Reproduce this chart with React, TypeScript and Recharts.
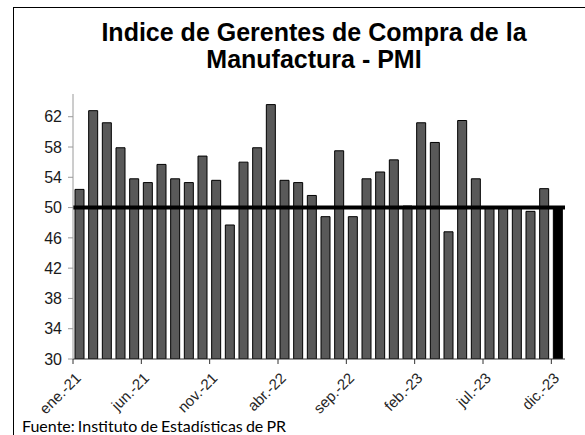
import { Bar, BarChart, Cell, ReferenceLine, XAxis, YAxis } from "recharts";

const months = [
  "ene.-21", "feb.-21", "mar.-21", "abr.-21", "may.-21", "jun.-21",
  "jul.-21", "ago.-21", "sep.-21", "oct.-21", "nov.-21", "dic.-21",
  "ene.-22", "feb.-22", "mar.-22", "abr.-22", "may.-22", "jun.-22",
  "jul.-22", "ago.-22", "sep.-22", "oct.-22", "nov.-22", "dic.-22",
  "ene.-23", "feb.-23", "mar.-23", "abr.-23", "may.-23", "jun.-23",
  "jul.-23", "ago.-23", "sep.-23", "oct.-23", "nov.-23", "dic.-23",
];

const pmi = [
  52.4, 62.8, 61.2, 57.9, 53.8, 53.3, 55.7, 53.8, 53.3, 56.8, 53.6, 47.7,
  56.0, 57.9, 63.6, 53.6, 53.3, 51.6, 48.8, 57.5, 48.8, 53.8, 54.7, 56.3,
  50.2, 61.2, 58.6, 46.8, 61.5, 53.8, 50.0, 50.0, 50.0, 49.5, 52.5, 50.0,
];

const yTicks = [30, 34, 38, 42, 46, 50, 54, 58, 62];
const threshold = 50;

const data = months.map((m, i) => ({ month: m, pmi: pmi[i] }));

const W = 585;
const H = 435;
const M = { top: 94, right: 20, bottom: 16, left: 13 };
const Y_W = 60;
const X_H = 60;
const AXIS_Y = H - M.bottom - X_H;
const BAND = (W - M.left - Y_W - M.right) / months.length;

// marcas entre categorías como en Excel, etiqueta girada bajo la categoría
function MonthTick(props: any) {
  const { x, payload } = props;
  const tx = x - BAND / 2;
  return (
    <g>
      <line x1={tx} y1={AXIS_Y} x2={tx} y2={AXIS_Y + 5} stroke="#333" />
      <text
        x={x + 2}
        y={AXIS_Y + 20}
        textAnchor="end"
        fontSize={15}
        fill="#262626"
        fontFamily="Liberation Sans, Arial, sans-serif"
        transform={`rotate(-45, ${x + 2}, ${AXIS_Y + 20})`}
      >
        {payload.value}
      </text>
    </g>
  );
}

export default function App() {
  return (
    <div
      style={{
        position: "absolute",
        left: 0,
        top: 0,
        width: W,
        height: H,
        overflow: "hidden",
        background: "#fff",
        fontFamily: "Liberation Sans, Arial, sans-serif",
      }}
    >
      <div
        style={{
          position: "absolute",
          left: 13,
          top: 7,
          width: 640,
          height: 500,
          border: "1px solid #000",
        }}
      />
      <div
        style={{
          position: "absolute",
          left: 0,
          top: 19,
          width: 628,
          textAlign: "center",
          fontSize: 25,
          lineHeight: "27px",
          fontWeight: "bold",
          color: "#000",
          whiteSpace: "nowrap",
        }}
      >
        Indice de Gerentes de Compra de la
        <br />
        Manufactura - PMI
      </div>
      <div style={{ position: "absolute", left: 0, top: 0 }}>
        <BarChart width={W} height={H} data={data} margin={M} barSize={9}>
          <XAxis
            dataKey="month"
            interval={4}
            height={X_H}
            tickLine={false}
            axisLine={{ stroke: "#333" }}
            tick={<MonthTick />}
          />
          <YAxis
            domain={[30, 65]}
            ticks={yTicks}
            width={Y_W}
            allowDataOverflow
            tickSize={5}
            tickMargin={6}
            axisLine={{ stroke: "#9a9a9a" }}
            tickLine={{ stroke: "#9a9a9a" }}
            tick={{ fill: "#1a1a1a", fontSize: 16, fontFamily: "Liberation Sans, Arial, sans-serif" }}
          />
          <Bar dataKey="pmi" fill="#595959" stroke="#000" strokeWidth={1} isAnimationActive={false}>
            {data.map((d, i) => (
              <Cell key={d.month} fill={i === data.length - 1 ? "#000" : "#595959"} />
            ))}
          </Bar>
          <ReferenceLine y={threshold} stroke="#000" strokeWidth={4} />
        </BarChart>
      </div>
      <div
        style={{
          position: "absolute",
          left: 22,
          top: 416,
          fontFamily: "Lato, sans-serif",
          fontSize: 16,
          wordSpacing: -1,
          color: "#000",
          whiteSpace: "nowrap",
        }}
      >
        Fuente: Instituto de Estadísticas de PR
      </div>
    </div>
  );
}
